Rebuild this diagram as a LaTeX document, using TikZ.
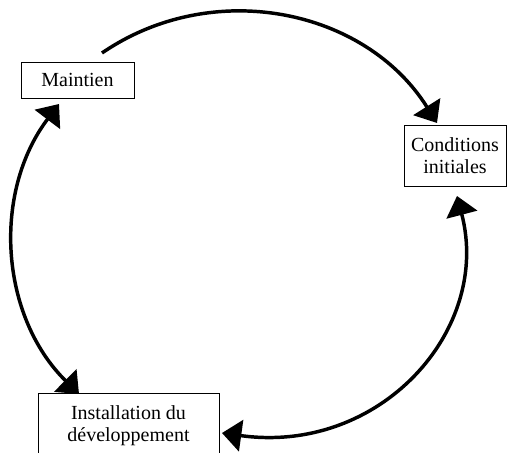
\documentclass[tikz,border=0pt]{standalone}
\usepackage{fontspec}
\setmainfont{Liberation Serif}
\usetikzlibrary{arrows.meta}
\begin{document}
\begin{tikzpicture}[x=0.75pt,y=-0.75pt,
  box/.style={draw=black, line width=0.6pt, fill=white, inner sep=0pt,
    font=\fontsize{15}{16.5}\selectfont, align=center},
  head/.tip={Triangle[length=14.5pt,width=23.5pt]},
  flow/.style={line width=2.6pt, -head},
  twoway/.style={line width=2.6pt, head-head}]
\useasboundingbox (0,0) rectangle (507,453);

% the three stages of the cycle
\node[box, minimum width=84.75pt, minimum height=27pt] (maint) at (77.5,80) {Maintien};
\node[box, minimum width=76.5pt, minimum height=45.75pt] (cond) at (455,155.5) {Conditions\\initiales};
\node[box, minimum width=135.75pt, inner ysep=9pt, anchor=north] (inst) at (128.5,393)
  {Installation du\\développement};

% end points of the curved connectors
\coordinate (topA) at (102,53);
\coordinate (topB) at (437,123);
\coordinate (rightA) at (457,196);
\coordinate (rightB) at (222,433);
\coordinate (leftA) at (59,104);
\coordinate (leftB) at (79,394);

% Maintien -> Conditions initiales
\draw[flow] (topA) .. controls (213,-23) and (365.5,9) .. (topB);
% Conditions initiales <-> Installation du développement
\draw[twoway] (rightA) .. controls (492,330) and (380,455) .. (rightB);
% Maintien <-> Installation du développement
\draw[twoway] (leftA) .. controls (-7.9,192.4) and (-0.2,315.8) .. (leftB);
\end{tikzpicture}
\end{document}
